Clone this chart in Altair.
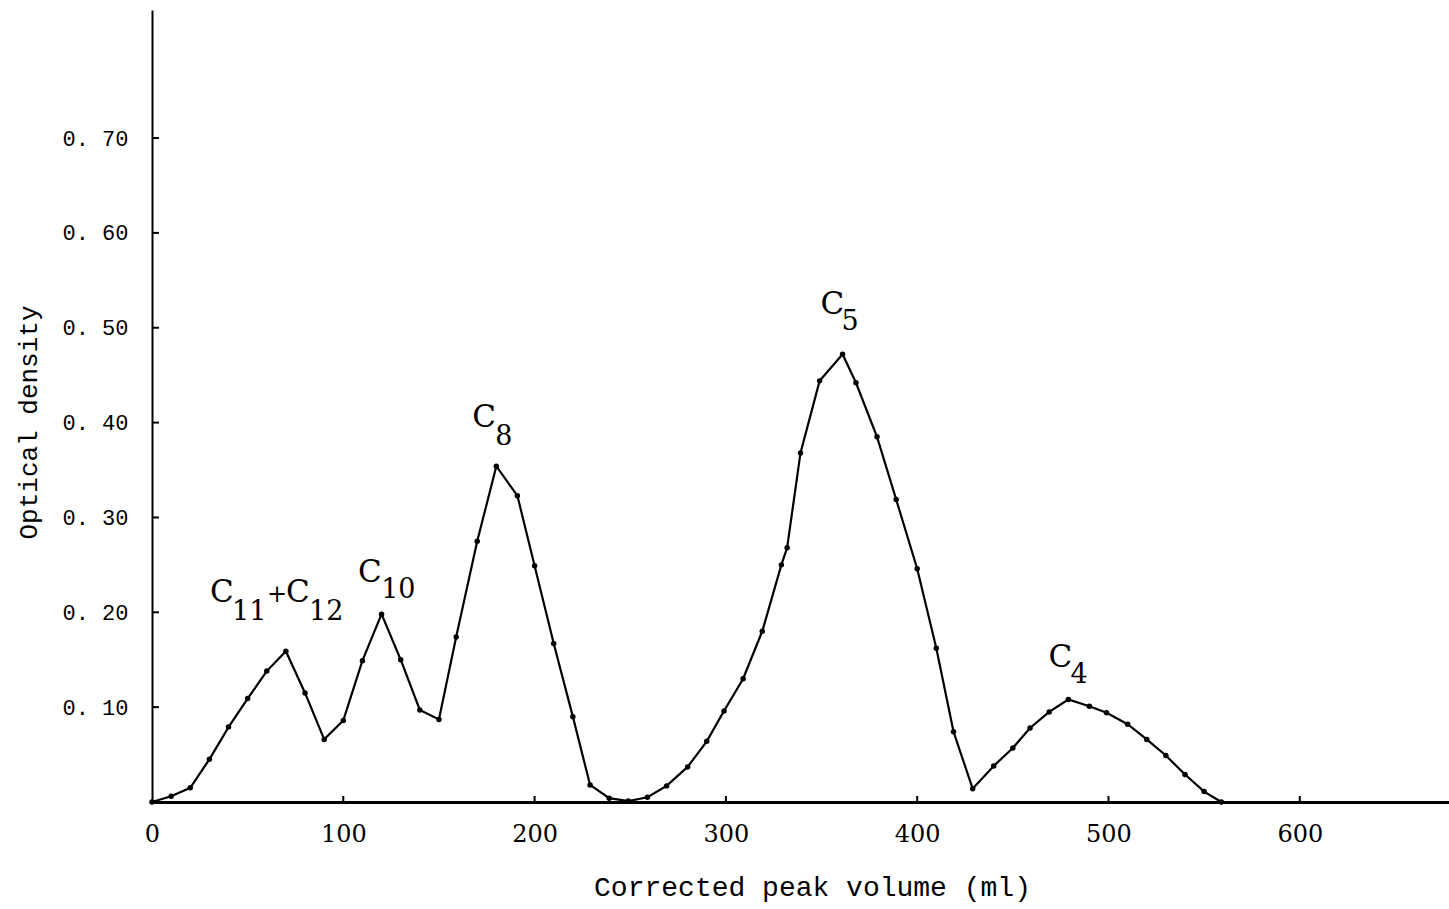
import altair as alt
import pandas as pd

# Data
volume = [0, 10, 20, 30, 40, 50, 60, 70, 80, 90, 100, 110, 120, 130, 140, 150,
          159, 170, 180, 191, 200, 210, 220, 229, 239, 249, 259, 269, 280, 290,
          299, 309, 319, 329, 332, 339, 349, 361, 368, 379, 389, 400, 410, 419,
          429, 440, 450, 459, 469, 479, 490, 499, 510, 520, 530, 540, 550, 559]
density = [0.0, 0.006, 0.015, 0.045, 0.079, 0.109, 0.138, 0.159, 0.115, 0.066,
           0.086, 0.149, 0.198, 0.150, 0.097, 0.087, 0.174, 0.275, 0.354, 0.323,
           0.249, 0.167, 0.090, 0.018, 0.004, 0.001, 0.005, 0.017, 0.037, 0.064,
           0.096, 0.130, 0.180, 0.250, 0.268, 0.368, 0.444, 0.472, 0.442, 0.385,
           0.319, 0.246, 0.162, 0.074, 0.014, 0.038, 0.057, 0.078, 0.095, 0.108,
           0.101, 0.094, 0.082, 0.066, 0.049, 0.029, 0.011, 0.0]

x_ticks = [0, 100, 200, 300, 400, 500, 600]
y_ticks = [0.10, 0.20, 0.30, 0.40, 0.50, 0.60, 0.70]
y_tick_labels = ["0. 10", "0. 20", "0. 30", "0. 40", "0. 50", "0. 60", "0. 70"]

# Peak labels: main letters and subscripts
label_text = ["C", "11", "+", "C", "12", "C", "10", "C", "8", "C", "5", "C", "4"]
label_x = [30.3, 41.8, 60.1, 70.1, 82.1, 107.7, 119.8, 167.4, 179.4, 349.4, 360.4, 468.6, 480.1]
label_y = [0.2205, 0.2004, 0.218, 0.2205, 0.2004, 0.2416, 0.2236, 0.405, 0.385, 0.524, 0.506, 0.152, 0.134]
label_size = [31, 27, 24, 31, 27, 31, 27, 31, 27, 31, 27, 31, 27]

W, H = 1297, 792
X_MAX, Y_MAX = 678, 0.835

df = pd.DataFrame({"v": volume, "od": density})
ticks_x = pd.DataFrame({"t": [t for t in x_ticks if t > 0]})
ticks_y = pd.DataFrame({"t": y_ticks})
labels = pd.DataFrame({"text": label_text, "x": label_x, "y": label_y, "size": label_size})

xscale = alt.Scale(domain=[0, X_MAX], nice=False, zero=False)
yscale = alt.Scale(domain=[0, Y_MAX], nice=False, zero=False)

label_expr = "{" + ",".join(f"'{v:.2f}':'{l}'" for v, l in zip(y_ticks, y_tick_labels)) + "}[format(datum.value,'.2f')]"

line = alt.Chart(df).mark_line(color="black", strokeWidth=2.2).encode(
    x=alt.X("v:Q", scale=xscale,
            axis=alt.Axis(title="Corrected peak volume (ml)", values=x_ticks, format="d",
                          ticks=False, grid=False, domainColor="black", domainWidth=3,
                          labelFont="DejaVu Serif", labelFontSize=24, labelColor="black",
                          labelPadding=20, labelFlush=False,
                          titleFont="Liberation Mono", titleFontSize=28,
                          titleFontWeight="normal", titleColor="black",
                          titleX=660, titleY=85, titleBaseline="middle", titleAlign="center")),
    y=alt.Y("od:Q", scale=yscale,
            axis=alt.Axis(title="Optical density", values=y_ticks, labelExpr=label_expr,
                          ticks=False, grid=False, domainColor="black", domainWidth=2,
                          labelFont="Liberation Mono", labelFontSize=22, labelColor="black",
                          labelPadding=24, labelFlush=False,
                          titleFont="Liberation Mono", titleFontSize=26,
                          titleFontWeight="normal", titleColor="black",
                          titleX=-124, titleY=412, titleBaseline="middle", titleAlign="center",
                          titleAngle=270)),
)

points = alt.Chart(df).mark_circle(color="black", size=30, opacity=1).encode(
    x=alt.X("v:Q", scale=xscale), y=alt.Y("od:Q", scale=yscale))

xt = alt.Chart(ticks_x).mark_rule(color="black", strokeWidth=2).encode(
    x=alt.X("t:Q", scale=xscale), y=alt.value(H), y2=alt.value(H - 6))
yt = alt.Chart(ticks_y).mark_rule(color="black", strokeWidth=2).encode(
    y=alt.Y("t:Q", scale=yscale), x=alt.value(0), x2=alt.value(7))

text = alt.Chart(labels).mark_text(align="left", baseline="middle", font="DejaVu Serif",
                                   color="black").encode(
    x=alt.X("x:Q", scale=xscale), y=alt.Y("y:Q", scale=yscale),
    text="text:N", size=alt.Size("size:Q", scale=None, legend=None))

chart = alt.layer(line, points, xt, yt, text).properties(
    width=W, height=H,
    autosize=alt.AutoSizeParams(type="none"),
    padding={"left": 152, "top": 10, "right": 0, "bottom": 107},
    background="white",
).configure_view(stroke=None)

chart.save("out.html", embed_options={"renderer": "svg", "actions": False})
